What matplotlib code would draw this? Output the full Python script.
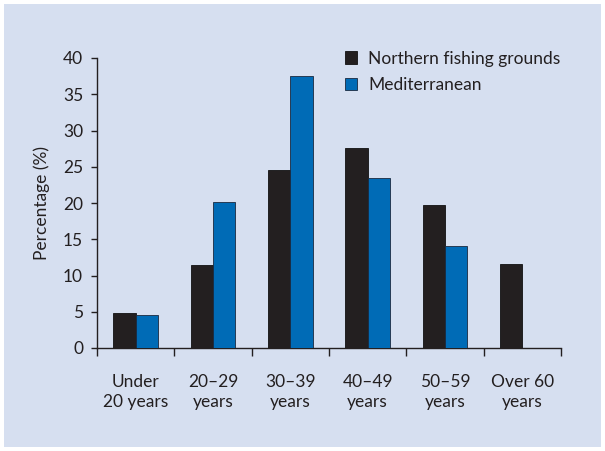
import numpy as np
import matplotlib
matplotlib.use("Agg")
import matplotlib.pyplot as plt
import matplotlib.patches as mpatches

plt.rcParams["font.family"] = ["Lato", "DejaVu Sans"]

# ── Data ────────────────────────────────────────────────────────────────────
categories = ["Under\n20 years", "20\u201329\nyears", "30\u201339\nyears",
              "40\u201349\nyears", "50\u201359\nyears", "Over 60\nyears"]
northern = [4.8, 11.5, 24.6, 27.6, 19.7, 11.6]
mediterranean = [4.6, 20.2, 37.5, 23.5, 14.1, 0.0]
series_names = ["Northern fishing grounds", "Mediterranean"]

bg = "#d6dff0"
col_north = "#231f20"
col_med = "#006bb6"
text_col = "#231f20"

fig = plt.figure(figsize=(6.05, 4.51), dpi=100)
fig.patch.set_facecolor("white")
fig.patches.append(mpatches.Rectangle((4 / 605, 4 / 451), 597 / 605, 443 / 451,
                                      transform=fig.transFigure,
                                      facecolor=bg, edgecolor="none", zorder=-5))

ax = fig.add_axes([97 / 605, (451 - 348) / 451, 464 / 605, 290 / 451])
ax.set_facecolor("none")
ax.set_zorder(2)

x = np.arange(len(categories))
w = 0.29
ax.bar(x - w / 2, northern, w, color=col_north, edgecolor="#111", linewidth=0.6,
       zorder=3)
med_vals = np.array(mediterranean)
mask = med_vals > 0
ax.bar(x[mask] + w / 2, med_vals[mask], w, color=col_med, edgecolor="#1a2a40",
       linewidth=0.6, zorder=3)

ax.set_xlim(-0.5, len(categories) - 0.5)
ax.set_ylim(0, 40)
ax.set_yticks(range(0, 41, 5))

# category boundaries as major ticks, labels on minor ticks at centres
ax.set_xticks(np.arange(-0.5, len(categories), 1.0))
ax.set_xticklabels([])
ax.set_xticks(x, minor=True)
ax.set_xticklabels(categories, minor=True, linespacing=1.25)
ax.tick_params(axis="x", which="major", length=5.5, width=1, color=text_col,
               direction="out")
ax.tick_params(axis="x", which="minor", length=0, pad=19, labelsize=12.5,
               labelcolor=text_col)
ax.tick_params(axis="y", length=4, width=1, color=text_col, pad=6,
               labelsize=12.5, labelcolor=text_col)

for s in ["top", "right"]:
    ax.spines[s].set_visible(False)
for s in ["left", "bottom"]:
    ax.spines[s].set_color(text_col)
    ax.spines[s].set_linewidth(1)

ax.set_ylabel("Percentage (%)", fontsize=12.5, color=text_col, labelpad=9)

handles = [mpatches.Patch(facecolor=col_north, edgecolor="#111", linewidth=0.6),
           mpatches.Patch(facecolor=col_med, edgecolor="#1a2a40", linewidth=0.6)]
fig.legend(handles, series_names, loc="upper left",
           bbox_to_anchor=(329 / 605, 1 - 35 / 451), frameon=False,
           fontsize=12.5, handlelength=0.7, handleheight=0.7,
           handletextpad=0.65, labelspacing=0.6, labelcolor=text_col)

fig.savefig("out.png", dpi=100, facecolor=fig.get_facecolor())
